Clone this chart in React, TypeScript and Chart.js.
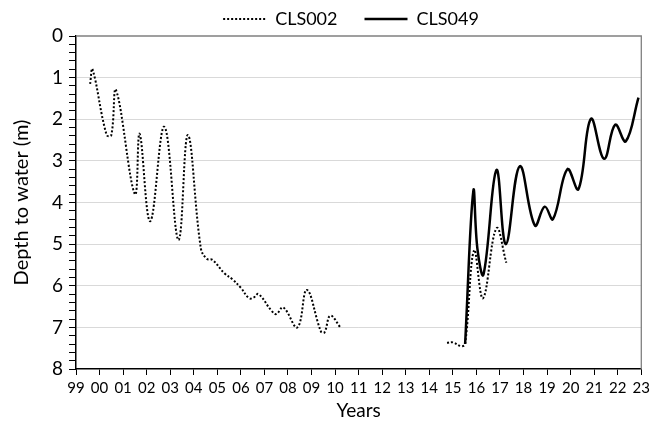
import React, { useEffect, useRef } from 'react';
import { Chart, registerables } from 'chart.js';

Chart.register(...registerables);

// ---- Data ----
const seriesNames = ['CLS002', 'CLS049'];

const cls002Years = [
  1999.6, 1999.7, 2000.3, 2000.5, 2000.7, 2001.5, 2001.7, 2002.15, 2002.75, 2003.35,
  2003.75, 2004.3, 2004.55, 2004.8, 2005.3, 2005.65, 2006.0, 2006.35, 2006.55, 2006.75,
  2007.3, 2007.5, 2007.8, 2008.4, 2008.8, 2009.4, 2009.55, 2009.8, 2010.25,
  2012.5,
  2014.75, 2015.0, 2015.35, 2015.52, 2015.9, 2016.28, 2016.85, 2017.27,
];
const cls002Depths: (number | null)[] = [
  1.15, 0.8, 2.38, 2.38, 1.3, 3.8, 2.35, 4.45, 2.18, 4.9,
  2.38, 5.1, 5.35, 5.38, 5.7, 5.85, 6.05, 6.3, 6.28, 6.2,
  6.6, 6.68, 6.52, 7.0, 6.1, 7.1, 7.12, 6.72, 7.02,
  null,
  7.37, 7.36, 7.45, 7.4, 5.15, 6.3, 4.62, 5.45,
];

const cls049Years = [
  2015.52, 2015.87, 2016.04, 2016.3, 2016.85, 2017.25, 2017.84, 2018.48, 2018.9, 2019.25,
  2019.86, 2020.33, 2020.86, 2021.42, 2021.89, 2022.34, 2022.88,
];
const cls049Depths = [
  7.4, 3.72, 5.1, 5.73, 3.22, 5.0, 3.13, 4.55, 4.1, 4.4,
  3.2, 3.68, 1.99, 2.95, 2.13, 2.53, 1.48,
];

const xFirstYear = 1999;
const xLastYear = 2023;
const xTickLabels = [
  '99', '00', '01', '02', '03', '04', '05', '06', '07', '08', '09', '10', '11',
  '12', '13', '14', '15', '16', '17', '18', '19', '20', '21', '22', '23',
];
const yMin = 0;
const yMax = 8;

const FONT = 'Lato, "Open Sans", sans-serif';

const isInt = (v: number) => Math.abs(v - Math.round(v)) < 1e-6;

const plotBorder = {
  id: 'plotBorder',
  beforeDatasetsDraw(chart: any) {
    const { ctx, chartArea } = chart;
    ctx.save();
    ctx.strokeStyle = '#808080';
    ctx.lineWidth = 1.3;
    ctx.beginPath();
    ctx.moveTo(chartArea.left, chartArea.top);
    ctx.lineTo(chartArea.right, chartArea.top);
    ctx.lineTo(chartArea.right, chartArea.bottom);
    ctx.stroke();
    ctx.restore();
  },
};

const legendPlace = {
  id: 'legendPlace',
  beforeInit(chart: any) {
    const legend = chart.legend;
    if (!legend) return;
    const origFit = legend.fit;
    legend.fit = function () {
      origFit.call(this);
      this.height = 36;
    };
  },
  afterLayout(chart: any) {
    const legend = chart.legend;
    if (!legend) return;
    legend.top = -17;
    legend.bottom = 35;
    legend.left += 29;
    legend.right += 29;
  },
};

export default function App() {
  const ref = useRef<HTMLCanvasElement | null>(null);

  useEffect(() => {
    document.body.style.margin = '0';
    const canvas = ref.current;
    if (!canvas) return;

    const d1 = cls002Years.map((x, i) => ({ x, y: cls002Depths[i] }));
    const d2 = cls049Years.map((x, i) => ({ x, y: cls049Depths[i] }));

    const chart = new Chart(canvas, {
      type: 'line',
      data: {
        datasets: [
          {
            label: seriesNames[0],
            data: d1 as any,
            borderColor: '#000',
            backgroundColor: '#000',
            borderWidth: 2,
            borderDash: [2, 2],
            pointRadius: 0,
            tension: 0.4,
            spanGaps: false,
            fill: false,
          },
          {
            label: seriesNames[1],
            data: d2 as any,
            borderColor: '#000',
            backgroundColor: '#000',
            borderWidth: 2.5,
            pointRadius: 0,
            tension: 0.4,
            fill: false,
          },
        ],
      },
      options: {
        animation: false,
        responsive: false,
        devicePixelRatio: 1,
        layout: { padding: { left: 0, right: 10, top: 0, bottom: 0 } },
        plugins: {
          legend: {
            display: true,
            position: 'top',
            labels: {
              usePointStyle: true,
              pointStyle: 'line',
              pointStyleWidth: 43,
              padding: 27,
              color: '#000',
              font: { family: FONT, size: 18 },
              generateLabels: (ch: any) => {
                const items = (Chart.defaults as any).plugins.legend.labels.generateLabels(ch);
                items.forEach((it: any) => {
                  const ds: any = ch.data.datasets[it.datasetIndex];
                  it.lineDash = ds.borderDash || [];
                  it.lineWidth = ds.borderWidth;
                  it.strokeStyle = '#000';
                  it.fillStyle = '#000';
                  it.lineCap = 'butt';
                });
                return items;
              },
            },
          },
          tooltip: { enabled: false },
        },
        scales: {
          x: {
            type: 'linear',
            min: xFirstYear,
            max: xLastYear,
            ticks: {
              stepSize: 1,
              autoSkip: false,
              maxRotation: 0,
              color: '#000',
              padding: 4,
              font: { family: FONT, size: 15 },
              callback: (v: any) => xTickLabels[Math.round(Number(v)) - xFirstYear] ?? '',
            },
            grid: {
              drawOnChartArea: false,
              tickLength: 6,
              tickColor: '#000',
              color: '#000',
            },
            border: { color: '#000', width: 1.5 },
            title: {
              display: true,
              text: 'Years',
              color: '#000',
              font: { family: FONT, size: 19 },
              padding: { top: 2, bottom: 0 },
            },
            afterFit: (s: any) => {
              s.height = 53;
            },
          },
          y: {
            type: 'linear',
            reverse: true,
            min: yMin,
            max: yMax,
            ticks: {
              stepSize: 0.2,
              autoSkip: false,
              color: '#000',
              padding: 6,
              font: { family: FONT, size: 19 },
              callback: (v: any) => (isInt(Number(v)) ? String(Math.round(Number(v))) : ''),
            },
            grid: {
              tickLength: 7,
              tickColor: '#000',
              lineWidth: 1,
              color: (c: any) => {
                const v = c.tick ? c.tick.value : 0.5;
                return isInt(v) && v > yMin && v < yMax ? '#d9d9d9' : 'rgba(0,0,0,0)';
              },
            },
            border: { color: '#000', width: 1.5 },
            title: {
              display: true,
              text: 'Depth to water (m)',
              color: '#000',
              font: { family: FONT, size: 20 },
              padding: { top: 10, bottom: 0 },
            },
            afterFit: (s: any) => {
              s.width = 76;
            },
          },
        },
      },
      plugins: [plotBorder, legendPlace],
    });

    return () => chart.destroy();
  }, []);

  return (
    <div style={{ width: 654, height: 422 }}>
      <canvas ref={ref} width={654} height={422} />
    </div>
  );
}
